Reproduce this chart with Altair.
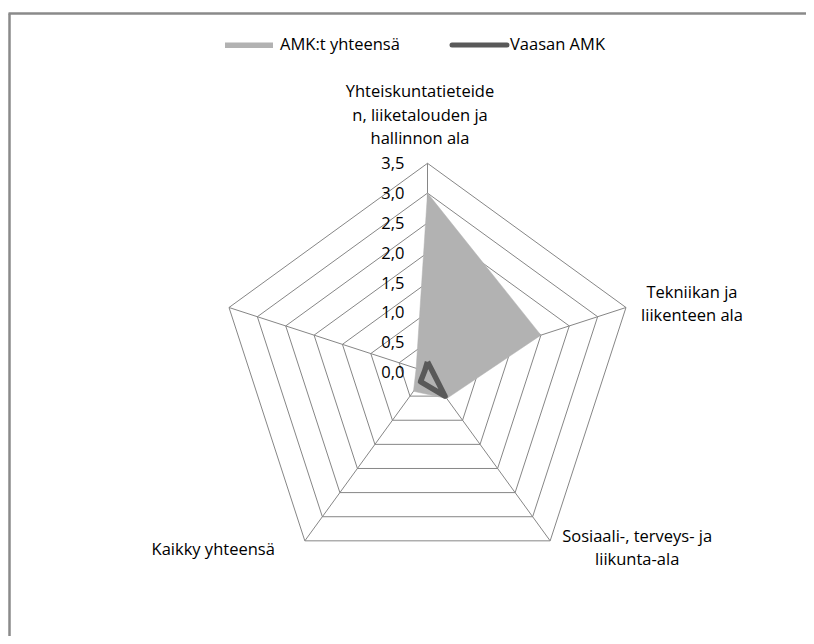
import math
import altair as alt
import pandas as pd

# ---- data ----
categories = [
    "Yhteiskuntatieteiden, liiketalouden ja hallinnon ala",
    "Tekniikan ja liikenteen ala",
    "Sosiaali-, terveys- ja liikunta-ala",
    "Kaikky yhteensä",
    "",
]
series_names = ["AMK:t yhteensä", "Vaasan AMK"]
amk_total = [3.0, 2.0, 0.55, 0.4, 0.2]
vaasan_amk = [0.17, 0.08, 0.5, 0.2, 0.05]
tick_values = [0.0, 0.5, 1.0, 1.5, 2.0, 2.5, 3.0, 3.5]
tick_labels = ["0,0", "0,5", "1,0", "1,5", "2,0", "2,5", "3,0", "3,5"]

N = len(categories)
RMAX = tick_values[-1]

# ---- tables built from the lists ----
rows = []
for name, vals in zip(series_names, [amk_total, vaasan_amk]):
    for k in range(N + 1):
        rows.append({"series": name, "k": k, "value": vals[k % N]})
series_df = pd.DataFrame(rows)

ring_rows = []
for lv in tick_values[1:]:
    for k in range(N + 1):
        ring_rows.append({"level": lv, "k": k})
ring_df = pd.DataFrame(ring_rows)

spoke_df = pd.DataFrame({"k": list(range(N)), "value": [RMAX] * N})
cat_df = pd.DataFrame({"k": list(range(N)), "value": [RMAX] * N, "cat": categories})
tick_df = pd.DataFrame({"value": tick_values, "label": tick_labels})
legend_df = pd.DataFrame({"series": series_names})

# ---- geometry / scales ----
W, H = 798, 628
CX, CY = 419.5, 364.0
S = 208.7 / RMAX
xdom = [-CX / S, (W - CX) / S]
ydom = [-(H - CY) / S, CY / S]
xs = alt.Scale(domain=xdom, nice=False, zero=False)
ys = alt.Scale(domain=ydom, nice=False, zero=False)

FONT = "Open Sans"
FS = 16.5
GRID = "#868686"

def polar(ch, r="value"):
    return ch.transform_calculate(
        theta=f"datum.k * 2 * PI / {N}",
    ).transform_calculate(
        px=f"datum.{r} * sin(datum.theta)",
        py=f"datum.{r} * cos(datum.theta)",
    )

rings = polar(alt.Chart(ring_df), "level").mark_line(
    color=GRID, strokeWidth=1
).encode(
    x=alt.X("px:Q", scale=xs, axis=None),
    y=alt.Y("py:Q", scale=ys, axis=None),
    detail="level:N",
    order="k:Q",
)

spokes = polar(alt.Chart(spoke_df)).mark_rule(color=GRID, strokeWidth=1).encode(
    x=alt.X("zx:Q", scale=xs, axis=None),
    y=alt.Y("zy:Q", scale=ys, axis=None),
    x2="px:Q",
    y2="py:Q",
).transform_calculate(zx="0", zy="0")

fill = polar(alt.Chart(series_df).transform_filter(
    alt.datum.series == series_names[0])).mark_line(
    fill="#b2b2b2", stroke="#b2b2b2", strokeWidth=0.5
).encode(
    x=alt.X("px:Q", scale=xs, axis=None),
    y=alt.Y("py:Q", scale=ys, axis=None),
    order="k:Q",
)

line = polar(alt.Chart(series_df).transform_filter(
    alt.datum.series == series_names[1])).mark_line(
    color="#595959", strokeWidth=5.5, strokeJoin="round"
).encode(
    x=alt.X("px:Q", scale=xs, axis=None),
    y=alt.Y("py:Q", scale=ys, axis=None),
    order="k:Q",
)

ticks = alt.Chart(tick_df).mark_text(
    align="right", baseline="middle", dx=-23, dy=1, font=FONT, fontSize=FS, color="#000000"
).encode(
    x=alt.X("zx:Q", scale=xs, axis=None),
    y=alt.Y("value:Q", scale=ys, axis=None),
    text="label:N",
).transform_calculate(zx="0")

def cat_label(i, align, dx, dy, lines):
    return polar(alt.Chart(cat_df).transform_filter(alt.datum.k == i)).mark_text(
        align=align, baseline="alphabetic", dx=dx, dy=dy, font=FONT, fontSize=FS,
        lineHeight=23.5, color="#000000"
    ).encode(
        x=alt.X("px:Q", scale=xs, axis=None),
        y=alt.Y("py:Q", scale=ys, axis=None),
        text=alt.value(lines),
    )

lab0 = cat_label(0, "center", -7.5, -66, ["Yhteiskuntatieteide", "n, liiketalouden ja", "hallinnon ala"])
lab1 = cat_label(1, "center", 66, -10, ["Tekniikan ja", "liikenteen ala"])
lab2 = cat_label(2, "center", 87, 1, ["Sosiaali-, terveys- ja", "liikunta-ala"])
lab3 = cat_label(3, "right", -30, 14, ["Kaikky yhteensä"])

# ---- legend (drawn) ----
leg_rect = alt.Chart(legend_df).transform_filter(alt.datum.series == series_names[0]).mark_rect(
    color="#b2b2b2"
).encode(x=alt.value(217), x2=alt.value(265), y=alt.value(34.5), y2=alt.value(40))
leg_line = alt.Chart(legend_df).transform_filter(alt.datum.series == series_names[1]).mark_rule(
    color="#595959", strokeWidth=5, strokeCap="round"
).encode(x=alt.value(444), x2=alt.value(499), y=alt.value(37))
leg_text0 = alt.Chart(legend_df).transform_filter(alt.datum.series == series_names[0]).mark_text(
    align="left", baseline="middle", font=FONT, fontSize=FS, color="#000000"
).encode(x=alt.value(272), y=alt.value(37), text="series:N")
leg_text1 = alt.Chart(legend_df).transform_filter(alt.datum.series == series_names[1]).mark_text(
    align="left", baseline="middle", font=FONT, fontSize=FS, color="#000000"
).encode(x=alt.value(502), y=alt.value(37), text="series:N")

# ---- frame ----
frame_v = alt.Chart(legend_df.head(1)).mark_rule(color="#8a8a8a", strokeWidth=2.5).encode(
    x=alt.value(1.5), y=alt.value(5.5), y2=alt.value(H))
frame_h = alt.Chart(legend_df.head(1)).mark_rule(color="#8a8a8a", strokeWidth=2.5).encode(
    x=alt.value(0.5), x2=alt.value(W), y=alt.value(5.5))

chart = alt.layer(
    frame_v, frame_h, rings, spokes, fill, line, ticks, lab0, lab1, lab2, lab3,
    leg_rect, leg_line, leg_text0, leg_text1,
).properties(
    width=W, height=H, padding=0, autosize=alt.AutoSizeParams(type="none")
).configure_view(stroke=None)

chart.save("out.html", embed_options={"renderer": "svg", "actions": False})
